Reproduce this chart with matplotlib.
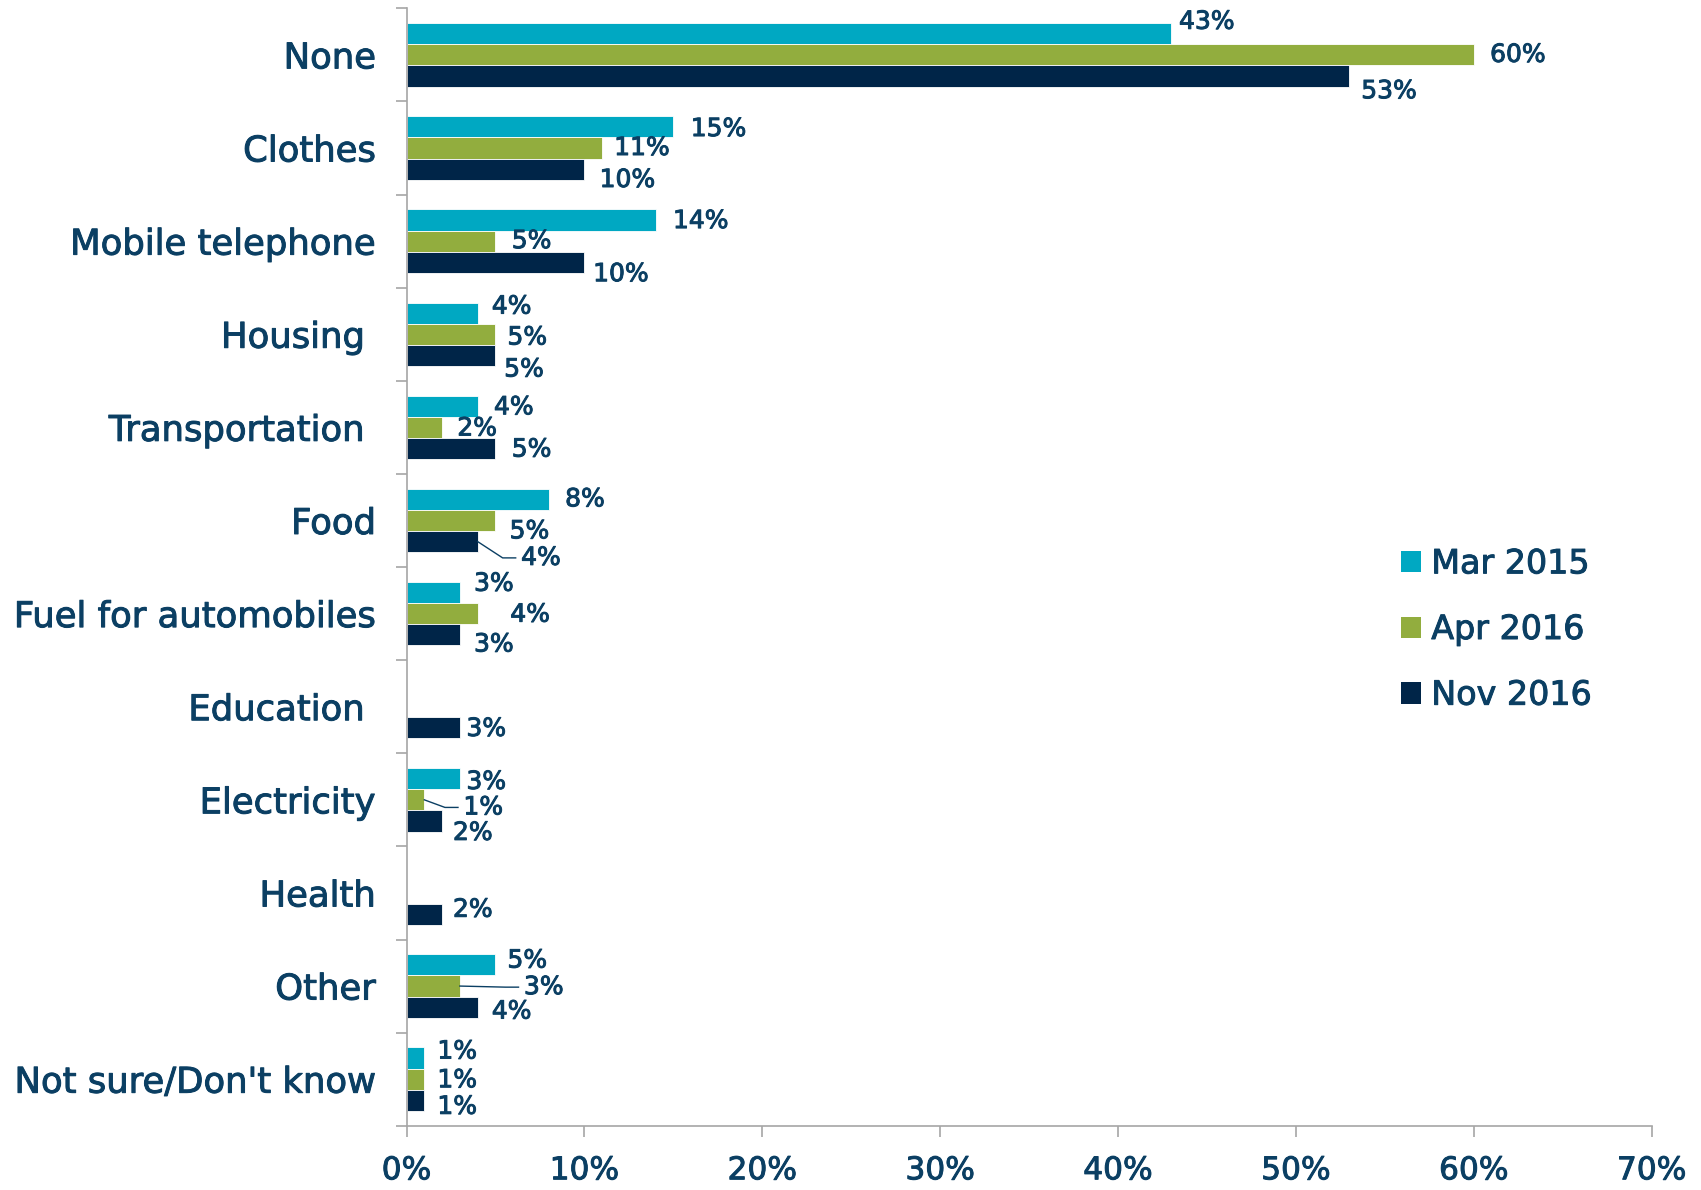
import numpy as np
import matplotlib
matplotlib.use("Agg")
import matplotlib.pyplot as plt
import matplotlib.patheffects as pe
from matplotlib.patches import Patch

# Data
categories = ["None", "Clothes", "Mobile telephone", "Housing ", "Transportation ",
              "Food", "Fuel for automobiles", "Education ", "Electricity", "Health",
              "Other", "Not sure/Don't know"]
series_names = ["Mar 2015", "Apr 2016", "Nov 2016"]
mar2015 = [43, 15, 14, 4, 4, 8, 3, np.nan, 3, np.nan, 5, 1]
apr2016 = [60, 11, 5, 5, 2, 5, 4, np.nan, 1, np.nan, 3, 1]
nov2016 = [53, 10, 10, 5, 5, 4, 3, 3, 2, 2, 4, 1]
x_ticks = [0, 10, 20, 30, 40, 50, 60, 70]

# Label nudges (reference px: dx from bar end, dy downward) per category, per series
label_nudge = [
    [(7, -11), (15, 0), (11, 14)],
    [(16, 2), (11, 0), (14, 10)],
    [(16, 1), (15, 0), (8, 11)],
    [(13, -6), (11, 3), (8, 13)],
    [(15, 1), (14, 1), (15, 1)],
    [(15, 0), (13, 10), (40, 15)],
    [(13, -8), (30, 1), (13, 9)],
    [None, None, (6, 1)],
    [(6, 3), (36, 7), (10, 11)],
    [None, None, (10, -4)],
    [(11, -4), (59, 1), (13, 4)],
    [(12, -6), (12, 1), (12, 6)],
]
leaders = [(5, 2), (8, 1), (10, 1)]  # (category, series) with leader line

colors = ["#00A8C2", "#92AD3E", "#002548"]
text_color = "#0B3F63"
axis_gray = "#A6A6A6"
px_x = 70 / (1522 - 375)   # % per reference px
px_y = 1 / 85.8            # band per reference px
bold = [pe.withStroke(linewidth=0.7, foreground=text_color)]

fig = plt.figure(figsize=(17.01, 11.90), dpi=100)
ax = fig.add_axes([0.239, 0.054, 0.732, 0.939])

y = np.arange(len(categories))
h = 0.227
for i, vals in enumerate([mar2015, apr2016, nov2016]):
    ax.barh(y + (i - 1) * h, vals, height=h, color=colors[i],
            edgecolor="white", linewidth=0.6, label=series_names[i], zorder=2)

# Data labels
for c in range(len(categories)):
    for i, vals in enumerate([mar2015, apr2016, nov2016]):
        v = vals[c]
        if np.isnan(v) or label_nudge[c][i] is None:
            continue
        dx, dy = label_nudge[c][i]
        by = y[c] + (i - 1) * h
        lx = v + dx * px_x
        ly = by + dy * px_y
        ax.text(lx, ly, f"{int(v)}%", ha="left", va="center",
                fontsize=18, color=text_color, zorder=4, path_effects=bold)
        if (c, i) in leaders:
            ax.plot([v, lx - 17 * px_x, lx - 5 * px_x], [by, ly, ly],
                    color=text_color, lw=1.0, zorder=3, clip_on=False)

ax.set_xlim(0, 70)
ax.set_ylim(len(categories) - 0.5, -0.5)

# Axes styling
for s in ["top", "right"]:
    ax.spines[s].set_visible(False)
for s in ["left", "bottom"]:
    ax.spines[s].set_color(axis_gray)
    ax.spines[s].set_linewidth(1.2)

ax.set_xticks(x_ticks)
ax.set_xticklabels([f"{t}%" for t in x_ticks])
ax.tick_params(axis="x", length=8, width=1.2, color=axis_gray, pad=14,
               labelsize=22.5, labelcolor=text_color)

ax.set_yticks(np.arange(-0.5, len(categories) + 0.5, 1.0))
ax.set_yticklabels([])
ax.tick_params(axis="y", which="major", length=8, width=1.2, color=axis_gray)
ax.set_yticks(y, minor=True)
ax.set_yticklabels(categories, minor=True)
ax.tick_params(axis="y", which="minor", length=0, pad=22,
               labelsize=25.5, labelcolor=text_color)

for t in ax.get_xticklabels() + ax.get_yticklabels(minor=True):
    t.set_path_effects(bold)

handles = [Patch(facecolor=colors[i], label=series_names[i]) for i in range(3)]
leg = fig.legend(handles=handles, loc="center left", bbox_to_anchor=(0.814, 0.471),
                 frameon=False, fontsize=24, handlelength=0.6, handleheight=0.6,
                 handletextpad=0.3, labelspacing=0.98, borderpad=0)
for t in leg.get_texts():
    t.set_color(text_color)
    t.set_path_effects(bold)

fig.savefig("out.png", dpi=100)
